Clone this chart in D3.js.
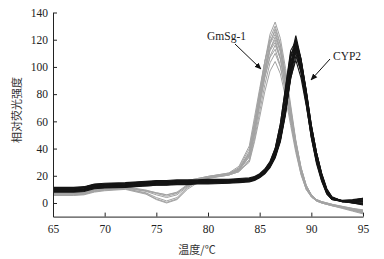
<!DOCTYPE html>
<html><head><meta charset="utf-8">
<script src="https://cdn.jsdelivr.net/npm/d3@7"></script>
<style>body{margin:0;background:#fff;} svg{display:block;}</style>
</head><body>
<svg id="c" width="384" height="259"></svg>
<script>
// Temperatures (°C) at which each melt curve is sampled
const temps = [65,67,68,69,70,72,74,75,76,77,78,79,80,82,83,84,84.5,85,85.5,86,86.5,87,87.5,88,88.5,89,89.5,90,90.5,91,91.5,92,93,94,95];

// GmSg-1 curves (grey)
const gmsg1  = [8,8,8.5,10.5,11,12,12.5,13,13.5,14.5,16,17.5,19,21,25,36,56,80,104,124,133,121,99,72,46,26,13,6,2.5,1,0,-1,-3,-5,-7];
const gmsg2  = [7,7,7.5,9.5,10.5,11.5,9,7,5,7,13,17,19,21.5,26,40,60,82,104,121,130,117,94,68,43,24,12,5,2,0.5,-0.5,-1.5,-3,-5,-6];
const gmsg3  = [6,6,6.5,8.5,9.5,10.5,7,3,0.5,3,11,16,18.5,21,24,34,52,74,98,117,128,116,95,70,45,26,13,6,2.5,1,0,-1,-2.5,-4,-5];
const gmsg4  = [8.5,8.5,9,11,11.5,12.5,13,13.5,14,15,16.5,18,19.5,22,27,42,63,84,104,119,126,113,91,66,42,23,11,5,2,0.5,-0.5,-1.5,-3.5,-5.5,-7.5];
const gmsg5  = [7.5,7.5,8,10,11,12,9.5,7.5,6,8,13.5,17.5,19.5,22,25,37,57,79,100,117,124,112,91,67,43,24,12,5,2,0.5,-0.5,-1.5,-3,-4.5,-6];
const gmsg6  = [8,8,8.5,10.5,11,12,12.5,13,13.5,14,15.5,17,18.5,20.5,23,32,50,72,94,113,122,111,91,68,45,26,13,6,2.5,1,0,-1,-2.5,-4,-5.5];
const gmsg7  = [5.5,5.5,6,8,9,10,6.5,2.5,0,2.5,10,15,18,20.5,24,35,54,76,97,113,120,107,86,62,40,22,11,4.5,1.5,0,-1,-2,-4,-6,-8];
const gmsg8  = [8,8,8.5,10.5,11.5,12.5,13,13.5,14,15,16.5,18,19.5,21.5,25,38,58,78,97,112,118,106,86,63,41,23,11,5,2,0.5,-0.5,-1.5,-3,-5,-6.5];
const gmsg9  = [7,7,7.5,9.5,10,11,8.5,6,4,6,12,16.5,19,21,24,34,51,72,92,108,116,106,87,65,43,25,12.5,5.5,2,0.5,-0.5,-1.5,-3,-4.5,-6];
const gmsg10 = [7.5,7.5,8,10,11,12,12.5,13,13.5,14.5,16,17.5,19,21,24.5,36,55,75,93,107,113,101,82,60,39,21,10,4.5,1.5,0,-1,-2,-3.5,-5.5,-7];
const gmsg11 = [6,6,6.5,8.5,9.5,10.5,7.5,4,1.5,4,11.5,16,18.5,20.5,23,31,47,67,87,103,110,100,82,61,40,23,11,5,2,0.5,-0.5,-1.5,-3,-4.5,-6];
const gmsg12 = [6.5,6.5,7,9,10,11,9,7.5,6,7.5,12.5,17,19,21,23.5,30,45,63,82,97,104,95,78,57,37,21,10,4.5,1.5,0,-1,-2,-3.5,-5,-6.5];
const gmsgSeries = [gmsg1,gmsg2,gmsg3,gmsg4,gmsg5,gmsg6,gmsg7,gmsg8,gmsg9,gmsg10,gmsg11,gmsg12];

// CYP2 curves (black)
const cyp1  = [11,11,11.5,13.5,14,14.5,15.5,16,16,16.5,16.5,16.5,17,17,17.5,18,19,21,24,29,38,53,77,106,123,106,82,55,35,20,9,3.5,2,2.5,3.5];
const cyp2  = [10,10,10.5,12.5,13,13.5,14.5,15,15,15.5,15.5,15.5,16,16,16.5,17,18,20,23,28,36,50,73,102,121,105,81,54,34,19,8,3,1.5,1.5,2];
const cyp3  = [9,9,9.5,11.5,12,12.5,13.5,14,14,14.5,14.5,15,15,15.5,16,16.5,17.5,19.5,22.5,27.5,35,48,70,99,120,106,83,57,37,21,9.5,4,1.5,1,0.5];
const cyp4  = [11.5,11.5,12,14,14.5,15,16,16.5,16.5,17,17,17,17.5,17.5,18,18.5,19.5,21.5,25,30.5,40,58,85,112,119,99,75,50,31,17,7,2.5,1,1,1.5];
const cyp5  = [8.5,8.5,9,11,11.5,12,13,13.5,13.5,14,14,14.5,14.5,15,15.5,16,17,19,22,26.5,34,46,67,96,118,105,83,57,37,21.5,10,4,1.5,0.5,-0.5];
const cyp6  = [10.5,10.5,11,13,13.5,14,15,15.5,15.5,16,16,16,16.5,16.5,17,17.5,18.5,20.5,23.5,29,38,55,82,108,117,100,77,51,32,18,7.5,3,1.5,1.5,2.5];
const cyp7  = [9.5,9.5,10,12,12.5,13,14,14.5,14.5,15,15,15.5,15.5,16,16.5,17,18,20,23,28,36,50,72,100,116,100,78,52,33,19,8,3,1,0.5,0];
const cyp8  = [8,8,8.5,10.5,11,11.5,12.5,13,13,13.5,13.5,14,14,14.5,15,15.5,16.5,18.5,21.5,26,33,45,65,94,115,103,82,57,37,22,10.5,4.5,1.5,0,-1.5];
const cyp9  = [11,11,11.5,13.5,14,14.5,15.5,16,16,16.5,16.5,16.5,17,17,17.5,18,19,21,24.5,30,40,58,84,110,114,96,73,48,30,16.5,7,2.5,1.5,2,3];
const cyp10 = [9.5,9.5,10,12,12.5,13,14,14.5,14.5,15,15,15,15.5,16,16.5,17,18,20,23,28,36,49,70,97,113,99,78,53,34,19.5,8.5,3.5,1,0.5,1];
const cyp11 = [8.5,8.5,9,11,11.5,12,13,13.5,13.5,14,14,14.5,14.5,15,15.5,16,17,19,22,27,34,46,66,93,112,101,80,56,36,21,9.5,4,1.5,0,-1];
const cyp12 = [10.5,10.5,11,13,13.5,14,15,15.5,15.5,16,16,16,16.5,16.5,17,17.5,18.5,20.5,24,29.5,39,56,80,105,110,96,74,48,29,16,6.5,2.5,1.5,2,3.5];
const cyp13 = [9,9,9.5,11.5,12,12.5,13.5,14,14,14.5,14.5,15,15,15.5,16,16.5,17.5,19.5,22.5,27.5,35,47,67,91,108,97,77,54,35,20,9,3.5,1,0,-0.5];
const cyp14 = [10,10,10.5,12.5,13,13.5,14.5,15,15,15.5,15.5,15.5,16,16.5,17,17.5,18.5,20.5,23.5,28.5,36,49,69,92,105,92,72,49,31,17.5,7.5,3,1.5,1,1.5];
const cypSeries = [cyp1,cyp2,cyp3,cyp4,cyp5,cyp6,cyp7,cyp8,cyp9,cyp10,cyp11,cyp12,cyp13,cyp14];

const xTicks = [65,70,75,80,85,90,95];
const yTicks = [0,20,40,60,80,100,120,140];
const xTitle = "温度/℃";
const yTitle = "相对荧光强度";
const seriesNames = ["GmSg-1","CYP2"];

const svg = d3.select("#c");
svg.append("rect").attr("width",384).attr("height",259).attr("fill","#fff");

const x = d3.scaleLinear().domain([65,95]).range([53,363]);
const y = d3.scaleLinear().domain([-10,140]).range([216.6,12.5]);
const line = d3.line().x((d,i)=>x(temps[i])).y(d=>y(d));

const defs = svg.append("defs");
defs.append("marker").attr("id","ah").attr("viewBox","0 0 10 10")
  .attr("refX",9).attr("refY",5).attr("markerWidth",7).attr("markerHeight",7)
  .attr("orient","auto").attr("markerUnits","userSpaceOnUse")
  .append("path").attr("d","M0,1 L10,5 L0,9 Z").attr("fill","#111");

const plot = svg.append("g");
plot.selectAll("path.g").data(gmsgSeries).join("path").attr("class","g")
  .attr("d",line).attr("fill","none").attr("stroke","#a3a3a3").attr("stroke-width",1);
plot.selectAll("path.b").data(cypSeries).join("path").attr("class","b")
  .attr("d",line).attr("fill","none").attr("stroke","#141414").attr("stroke-width",1.1);

const tickFont = "'Liberation Serif','Times New Roman',serif";
const xAxis = svg.append("g").attr("transform",`translate(0,${y(-10)})`)
  .call(d3.axisBottom(x).tickValues(xTicks).tickSizeInner(-4).tickSizeOuter(0).tickPadding(8));
const yAxis = svg.append("g").attr("transform",`translate(${x(65)},0)`)
  .call(d3.axisLeft(y).tickValues(yTicks).tickSizeInner(-4).tickSizeOuter(0).tickPadding(5));
[xAxis,yAxis].forEach(a=>{
  a.selectAll("text").attr("font-family",tickFont).attr("font-size",11.5).attr("fill","#222");
  a.selectAll("line,path").attr("stroke","#222");
});

const cjk = "'Noto Sans CJK SC','Noto Sans',sans-serif";
svg.append("text").attr("x",197).attr("y",254).attr("text-anchor","middle")
  .attr("font-family",cjk).attr("font-size",11).attr("fill","#333").text(xTitle);
svg.append("text").attr("transform","translate(21,110) rotate(-90)").attr("text-anchor","middle")
  .attr("font-family",cjk).attr("font-size",11).attr("fill","#333").text(yTitle);

// annotations
svg.append("text").attr("x",207).attr("y",40).attr("font-family",tickFont).attr("font-size",11.5)
  .attr("fill","#222").text(seriesNames[0]);
svg.append("line").attr("x1",235).attr("y1",44).attr("x2",261).attr("y2",69)
  .attr("stroke","#111").attr("stroke-width",1).attr("marker-end","url(#ah)");
svg.append("text").attr("x",333).attr("y",60).attr("font-family",tickFont).attr("font-size",11.5)
  .attr("fill","#222").text(seriesNames[1]);
svg.append("line").attr("x1",330).attr("y1",59).attr("x2",311).attr("y2",80)
  .attr("stroke","#111").attr("stroke-width",1).attr("marker-end","url(#ah)");
</script>
</body></html>
